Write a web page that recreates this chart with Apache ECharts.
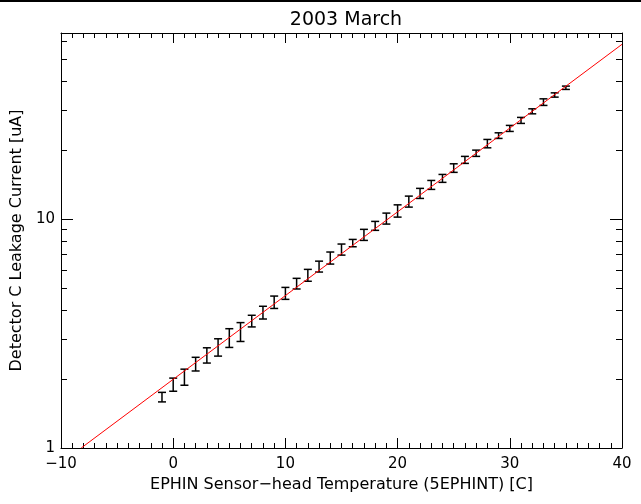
<!DOCTYPE html>
<html><head><meta charset="utf-8">
<script src="https://cdn.jsdelivr.net/npm/echarts@6/dist/echarts.min.js"></script>
<style>html,body{margin:0;padding:0;background:#fff}#c{width:641px;height:504px}</style>
</head><body><div id="c"></div>
<script>
// Sensor-head temperature (C)
const temps = [-1,0,1,2,3,4,5,6,7,8,9,10,11,12,13,14,15,16,17,18,19,20,21,22,23,24,25,26,27,28,29,30,31,32,33,34,35];
// Leakage current error bar bounds (uA)
const currentLow  = [1.59,1.77,1.88,2.17,2.35,2.52,2.75,2.92,3.38,3.66,4.07,4.46,4.95,5.35,5.87,6.36,6.96,7.57,8.07,8.93,9.51,10.20,11.28,12.31,13.48,14.47,16.0,17.51,18.79,20.48,22.51,24.15,26.18,28.83,31.37,34.1,36.85];
const currentHigh = [1.75,2.02,2.21,2.49,2.74,3.00,3.32,3.53,3.80,4.16,4.61,5.03,5.51,6.03,6.55,7.18,7.78,8.15,9.02,9.77,10.62,11.54,12.60,13.62,14.75,15.67,17.44,18.79,20.01,22.28,23.82,25.66,27.81,30.32,33.52,35.6,38.1];
// Fitted exponential line endpoints
const fitX = [-8.2, 40];
const fitY = [1.0, 58.0];
// Axis ticks
const yMajorTicks = [1, 10];
const yMinorTicks = [2,3,4,5,6,7,8,9,20,30,40,50,60];

const FONT = 'DejaVu Sans';
const chart = echarts.init(document.getElementById('c'), null, {renderer: 'canvas'});

const lineStyle = {color: '#000', width: 1};
function xAx(pos, show) {
  return {
    type: 'value', position: pos, min: -10, max: 40, interval: 10,
    axisLine: {show: true, onZero: false, lineStyle},
    axisTick: {show: true, inside: true, length: 10, lineStyle},
    minorTick: {show: true, splitNumber: 10, length: 5, lineStyle},
    splitLine: {show: false}, minorSplitLine: {show: false},
    axisLabel: {show: show, color: '#000', fontFamily: FONT, fontSize: 15, margin: 9,
      formatter: v => String(v).replace('-', '\u2212')},
    name: show ? 'EPHIN Sensor\u2212head Temperature (5EPHINT) [C]' : '',
    nameLocation: 'middle', nameGap: 29,
    nameTextStyle: {color: '#000', fontFamily: FONT, fontSize: 16}
  };
}
function yAx(pos, ticks, len, show, line) {
  return {
    type: 'log', logBase: 10, position: pos, min: 1, max: 65,
    axisLine: {show: line, onZero: false, lineStyle},
    axisTick: {show: true, inside: true, length: len, customValues: ticks, lineStyle},
    splitLine: {show: false},
    axisLabel: {show: show, customValues: ticks, color: '#000', fontFamily: FONT, fontSize: 15, margin: 6},
    name: show ? 'Detector C Leakage Current [uA]' : '',
    nameLocation: 'middle', nameGap: 35,
    nameTextStyle: {color: '#000', fontFamily: FONT, fontSize: 16}
  };
}

const barData = temps.map((t, i) => [t, currentLow[i], currentHigh[i]]);
const fitData = fitX.map((x, i) => [x, fitY[i]]);

chart.setOption({
  backgroundColor: '#fff',
  animation: false,
  title: {
    text: '2003 March', left: 341, textAlign: 'center', top: 6,
    textStyle: {color: '#000', fontFamily: FONT, fontSize: 19, fontWeight: 'normal'}
  },
  grid: {left: 61, right: 19, top: 33, bottom: 56, containLabel: false},
  xAxis: [xAx('bottom', true), xAx('top', false)],
  yAxis: [
    yAx('left', yMajorTicks, 12, true, true),
    yAx('right', yMajorTicks, 12, false, true),
    yAx('left', yMinorTicks, 6, false, false),
    yAx('right', yMinorTicks, 6, false, false)
  ],
  graphic: [{type: 'rect', shape: {x: 0, y: 0, width: 641, height: 2}, style: {fill: '#000'}}],
  series: [
    {
      type: 'custom', xAxisIndex: 0, yAxisIndex: 0, z: 2,
      encode: {x: 0, y: [1, 2]},
      data: barData,
      renderItem: function (params, api) {
        const x = api.value(0);
        const pHi = api.coord([x, api.value(2)]);
        const pLo = api.coord([x, api.value(1)]);
        const w = 4;
        const st = {stroke: '#000', lineWidth: 1.5};
        return {type: 'group', children: [
          {type: 'line', shape: {x1: pHi[0], y1: pHi[1], x2: pLo[0], y2: pLo[1]}, style: st},
          {type: 'line', shape: {x1: pHi[0] - w, y1: pHi[1], x2: pHi[0] + w, y2: pHi[1]}, style: st},
          {type: 'line', shape: {x1: pLo[0] - w, y1: pLo[1], x2: pLo[0] + w, y2: pLo[1]}, style: st}
        ]};
      }
    },
    {
      type: 'line', xAxisIndex: 0, yAxisIndex: 0, z: 3,
      data: fitData, showSymbol: false, symbol: 'none',
      lineStyle: {color: '#ff0000', width: 1}, clip: true
    }
  ]
});
</script>
</body></html>
